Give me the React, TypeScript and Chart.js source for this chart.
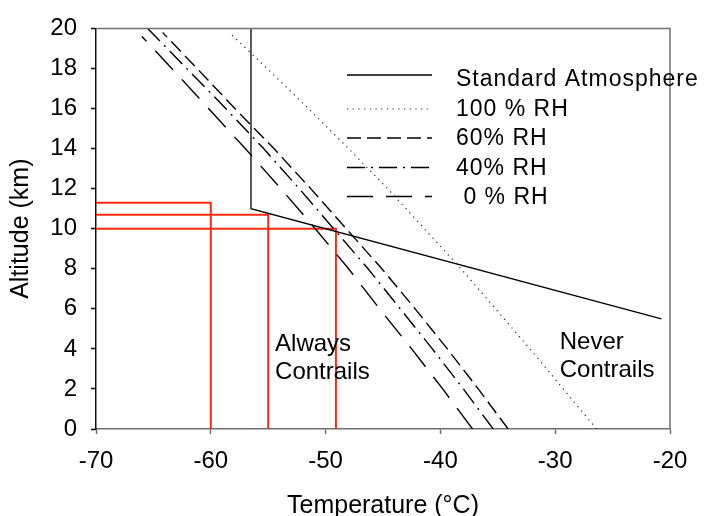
import React, { useEffect, useRef } from 'react';
import { Chart, registerables } from 'chart.js';

Chart.register(...registerables);

// ---------- data ----------
const xTicks = [-70, -60, -50, -40, -30, -20];
const yTicks = [0, 2, 4, 6, 8, 10, 12, 14, 16, 18, 20];

const seriesNames = ['Standard Atmosphere', '100 % RH', '60% RH', '40% RH', ' 0 % RH'];

const stdAlt = [20, 11, 5.5];
const stdTemp = [-56.5, -56.5, -20.75];

const rh100Alt = [0, 2, 4, 6, 8, 10, 12, 14, 16, 18, 19.8];
const rh100Temp = [-26.4, -29.3, -32.2, -35.2, -38.2, -41.4, -44.6, -48.0, -51.5, -55.1, -58.4];

const rh60Alt = [0, 2, 4, 6, 8, 10, 12, 14, 16, 18, 19.8];
const rh60Temp = [-34.1, -36.7, -39.4, -42.2, -45.1, -48.2, -51.3, -54.5, -57.9, -61.2, -64.2];

const rh40Alt = [0, 2, 4, 6, 8, 10, 12, 14, 16, 18, 20];
const rh40Temp = [-35.4, -38.0, -40.7, -43.5, -46.3, -49.3, -52.3, -55.4, -58.7, -62.1, -65.5];

const rh0Alt = [0, 2, 4, 6, 8, 10, 12, 14, 16, 18, 19.6];
const rh0Temp = [-37.2, -39.8, -42.5, -45.3, -48.0, -50.9, -53.9, -57.0, -60.2, -63.4, -66.0];

// red guide lines: altitude of horizontal part, temperature of vertical part
const redAlt = [11.3, 10.7, 10.0];
const redTemp = [-60, -55, -49.1];

const annotationLines = [['Always', 'Contrails'], ['Never', 'Contrails']];
const annotationTemp = [-54.4, -29.6];
const annotationAlt = [3.9, 4.0];

const X_MIN = -70;
const X_MAX = -20;
const Y_MIN = 0;
const Y_MAX = 20;

// ---------- helpers ----------
const FONT = '"Liberation Sans", Arial, Helvetica, sans-serif';
const pts = (xs: number[], ys: number[]) => xs.map((x, i) => ({ x, y: ys[i] }));

const overlayPlugin = {
  id: 'overlay',
  afterDraw(chart: any) {
    const { ctx, chartArea: a, scales } = chart;
    const xs = scales.x;
    const ys = scales.y;
    ctx.save();
    // top & right frame
    ctx.setLineDash([]);
    ctx.strokeStyle = '#707070';
    ctx.lineWidth = 1.5;
    ctx.beginPath();
    ctx.moveTo(a.left, a.top);
    ctx.lineTo(a.right, a.top);
    ctx.lineTo(a.right, a.bottom);
    ctx.stroke();

    // annotations
    ctx.fillStyle = '#000';
    ctx.font = `24px ${FONT}`;
    ctx.textAlign = 'left';
    ctx.textBaseline = 'alphabetic';
    annotationLines.forEach((lines, i) => {
      const px = xs.getPixelForValue(annotationTemp[i]);
      const py = ys.getPixelForValue(annotationAlt[i]);
      lines.forEach((t, k) => ctx.fillText(t, px, py + k * 28));
    });

    // legend
    const lx0 = 347;
    const lx1 = 432;
    const tx = 456;
    const rowY = [80, 110, 139, 168.5, 197.5];
    ctx.font = `23px ${FONT}`;
    if ('letterSpacing' in ctx) (ctx as any).letterSpacing = '1px';
    ctx.textBaseline = 'middle';
    for (let i = 0; i < seriesNames.length; i++) {
      const ds = chart.data.datasets[i];
      const ly = rowY[i] - (i === 0 ? 5 : 1);
      ctx.setLineDash(ds.borderDash || []);
      ctx.lineWidth = ds.borderWidth;
      ctx.strokeStyle = ds.borderColor;
      ctx.beginPath();
      ctx.moveTo(lx0, ly);
      ctx.lineTo(lx1, ly);
      ctx.stroke();
      ctx.setLineDash([]);
      ctx.fillText(seriesNames[i], tx, rowY[i]);
    }
    if ('letterSpacing' in ctx) (ctx as any).letterSpacing = '0px';
    ctx.restore();
  },
};

export default function App() {
  const canvasRef = useRef<HTMLCanvasElement | null>(null);

  useEffect(() => {
    document.body.style.margin = '0';
    const canvas = canvasRef.current;
    if (!canvas) return;

    const base = {
      showLine: true,
      pointRadius: 0,
      pointHoverRadius: 0,
      tension: 0,
      fill: false,
    };

    const datasets: any[] = [
      { ...base, label: seriesNames[0], data: pts(stdTemp, stdAlt), borderColor: '#000', borderWidth: 1.3, borderDash: [] },
      { ...base, label: seriesNames[1], data: pts(rh100Temp, rh100Alt), borderColor: '#222', borderWidth: 1.2, borderDash: [1.2, 4.5] },
      { ...base, label: seriesNames[2], data: pts(rh60Temp, rh60Alt), borderColor: '#000', borderWidth: 1.4, borderDash: [14, 6] },
      { ...base, label: seriesNames[3], data: pts(rh40Temp, rh40Alt), borderColor: '#000', borderWidth: 1.4, borderDash: [18, 6, 2, 6] },
      { ...base, label: seriesNames[4], data: pts(rh0Temp, rh0Alt), borderColor: '#000', borderWidth: 1.4, borderDash: [26, 13] },
      ...redAlt.map((h, i) => ({
        ...base,
        label: `red${i}`,
        data: [
          { x: X_MIN, y: h },
          { x: redTemp[i], y: h },
          { x: redTemp[i], y: Y_MIN },
        ],
        borderColor: '#ff2a12',
        borderWidth: 2,
        borderDash: [],
      })),
    ];

    const chart = new Chart(canvas, {
      type: 'scatter',
      data: { datasets },
      plugins: [overlayPlugin],
      options: {
        animation: false,
        responsive: true,
        maintainAspectRatio: false,
        layout: { padding: { top: 27, right: 34, left: 0, bottom: 0 } },
        plugins: {
          legend: { display: false },
          tooltip: { enabled: false },
          title: { display: false },
        },
        scales: {
          x: {
            type: 'linear',
            min: X_MIN,
            max: X_MAX,
            afterBuildTicks: (s: any) => {
              s.ticks = xTicks.map((v) => ({ value: v }));
            },
            afterFit: (s: any) => {
              s.height = 87;
            },
            ticks: {
              color: '#000',
              font: { family: FONT, size: 24 },
              padding: 13,
              callback: (v: any) => String(v),
            },
            grid: {
              drawOnChartArea: false,
              drawTicks: true,
              tickLength: 5,
              tickWidth: 1.5,
              tickColor: '#707070',
            },
            border: { display: true, color: '#707070', width: 1.5 },
            title: {
              display: true,
              text: 'Temperature (°C)',
              color: '#000',
              font: { family: FONT, size: 25, lineHeight: 1.2 },
              padding: { top: 0, bottom: -5 },
            },
          },
          y: {
            type: 'linear',
            min: Y_MIN,
            max: Y_MAX,
            afterBuildTicks: (s: any) => {
              s.ticks = yTicks.map((v) => ({ value: v }));
            },
            afterFit: (s: any) => {
              s.width = 96;
            },
            ticks: {
              color: '#000',
              font: { family: FONT, size: 24 },
              padding: 14,
              callback: (v: any) => String(v),
            },
            grid: {
              drawOnChartArea: false,
              drawTicks: true,
              tickLength: 5,
              tickWidth: 1.5,
              tickColor: '#000',
            },
            border: { display: true, color: '#111', width: 1.5 },
            title: {
              display: true,
              text: 'Altitude (km)',
              color: '#000',
              font: { family: FONT, size: 25, lineHeight: 1.2 },
              padding: { top: 6, bottom: 0 },
            },
          },
        },
      },
    });

    return () => chart.destroy();
  }, []);

  return (
    <div style={{ width: 704, height: 516, position: 'relative' }}>
      <canvas ref={canvasRef} />
    </div>
  );
}
